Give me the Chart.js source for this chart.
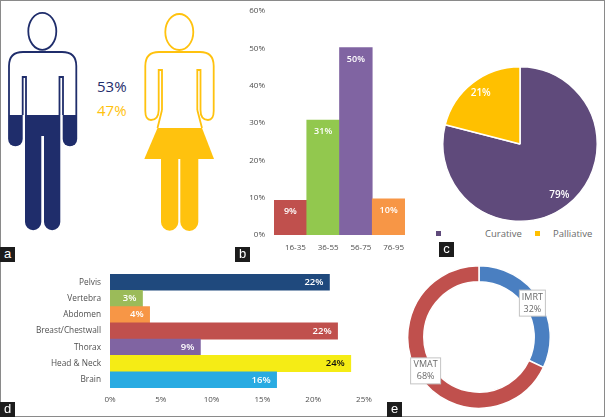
<!DOCTYPE html>
<html>
<head>
<meta charset="utf-8">
<script src="https://cdn.jsdelivr.net/npm/chart.js@4"></script>
<style>
html, body { margin: 0; padding: 0; background: #fff; }
#page { position: relative; width: 605px; height: 417px; overflow: hidden; background: #fff; font-family: "Open Sans", sans-serif; filter: blur(0.3px); }
#frame { position: absolute; left: 0; top: 0; width: 603px; height: 415px; border: 1px solid #8a8a8a; }
canvas { position: absolute; }
#people { position: absolute; left: 0; top: 0; }
.tag { position: absolute; width: 15px; height: 15px; background: #1c1c1c; color: #fff; font: 13px/14px "Liberation Sans", sans-serif; text-align: center; }
.pct { position: absolute; left: 97px; font-size: 15px; line-height: 20px; }
.legend { position: absolute; top: 227px; font-size: 9.5px; line-height: 13px; color: #6a6a6a; white-space: nowrap; }
.swatch { position: absolute; top: 231px; width: 5px; height: 5px; }
</style>
</head>
<body>
<div id="page">
  <div id="frame"></div>

  <svg id="people" width="235" height="240">
    <g fill="none" stroke="#1f2d6b" stroke-width="1.8">
      <ellipse cx="42.3" cy="31.3" rx="14" ry="18.5"/>
      <path d="M9 115 V66 Q9 52 23 52 H62 Q76.3 52 76.3 66 V115"/>
      <path d="M22.7 115 V77 H26 V115 M59.5 115 V77 H63 V115"/>
    </g>
    <g fill="#1f2d6b">
      <path d="M8.1 115 H22.7 V139 a7.3 7.3 0 0 1 -14.6 0 Z"/>
      <path d="M62.7 115 H77.2 V139 a7.25 7.25 0 0 1 -14.5 0 Z"/>
      <path d="M25 115 H60.3 V222 a8.15 8.15 0 0 1 -16.3 0 V136 H41.3 V222 a8.15 8.15 0 0 1 -16.3 0 Z"/>
    </g>
    <g fill="none" stroke="#ffc20e" stroke-width="1.8">
      <ellipse cx="179.3" cy="32" rx="14" ry="18"/>
      <path d="M162 110 V70 H158.7 V110 Q158.5 120 151 120 Q145.3 120 145.3 111 V66 Q145.3 52 159 52 H200 Q213.7 52 213.7 66 V111 Q213.7 120 208 120 Q200.5 120 200.5 110 V70 H197.3 V110"/>
      <path d="M162 110 L157.5 128 M197.3 110 L202 128"/>
    </g>
    <g fill="#ffc20e">
      <path d="M157.5 128 H202 L214 159 H144.3 Z"/>
      <path d="M161 158 H178.3 V222 a8.65 8.65 0 0 1 -17.3 0 Z"/>
      <path d="M180.3 158 H198.3 V222 a9 9 0 0 1 -18 0 Z"/>
    </g>
  </svg>
  <div class="pct" id="pctMale" style="top:76px;color:#1f2d6b"></div>
  <div class="pct" id="pctFemale" style="top:100px;color:#ffc20e"></div>

  <canvas id="ageChart" width="170" height="262" style="left:235px;top:0"></canvas>
  <canvas id="intentChart" width="156" height="156" style="left:442px;top:66px"></canvas>
  <canvas id="siteChart" width="376" height="138" style="left:0;top:270px"></canvas>
  <canvas id="techChart" width="144" height="144" style="left:407px;top:265px"></canvas>

  <div class="swatch" id="sw0" style="left:436px"></div>
  <div class="legend" id="lg0" style="left:485px"></div>
  <div class="swatch" id="sw1" style="left:535px"></div>
  <div class="legend" id="lg1" style="left:553px"></div>

  <div class="tag" style="left:0;top:247px">a</div>
  <div class="tag" style="left:235px;top:247px">b</div>
  <div class="tag" style="left:439px;top:242px">c</div>
  <div class="tag" style="left:0;top:402px">d</div>
  <div class="tag" style="left:387px;top:402px">e</div>
</div>

<script>
// panel a
const sexValues = [53, 47];

// panel b
const ageLabels = ['16-35', '36-55', '56-75', '76-95'];
const ageValues = [9.3, 30.8, 50.2, 9.7];
const ageText = ['9%', '31%', '50%', '10%'];
const ageColors = ['#c0504d', '#92c84e', '#8064a2', '#f79646'];

// panel c
const intentLabels = ['Curative', 'Palliative'];
const intentValues = [79, 21];
const intentColors = ['#5f4a7b', '#ffc000'];

// panel d
const siteLabels = ['Pelvis', 'Vertebra', 'Abdomen', 'Breast/Chestwall', 'Thorax', 'Head & Neck', 'Brain'];
const siteValues = [21.6, 3.2, 3.9, 22.4, 8.9, 23.7, 16.4];
const siteText = ['22%', '3%', '4%', '22%', '9%', '24%', '16%'];
const siteColors = ['#1f497d', '#9bbb59', '#f79646', '#c0504d', '#8064a2', '#f5ec15', '#29abe2'];
const siteTextColors = ['#fff', '#fff', '#fff', '#fff', '#fff', '#111', '#fff'];

// panel e
const techLabels = ['IMRT', 'VMAT'];
const techValues = [32, 68];
const techColors = ['#4a7fc1', '#c0504d'];

const tickFont = { family: 'Open Sans', size: 8 };
const siteTickFont = { family: 'Open Sans', size: 8.3 };
const tickColor = '#4f4f4f';

// keep the plot box where it is asked for, no room added for half a tick label
function fixScale(scale, size) {
    if (scale.isHorizontal()) {
        scale.height = size;
    } else {
        scale.width = size;
    }
    scale.paddingTop = 0;
    scale.paddingBottom = 0;
    scale.paddingLeft = 0;
    scale.paddingRight = 0;
}

document.getElementById('pctMale').textContent = sexValues[0] + '%';
document.getElementById('pctFemale').textContent = sexValues[1] + '%';
intentLabels.forEach(function (name, i) {
    document.getElementById('lg' + i).textContent = name;
    document.getElementById('sw' + i).style.background = intentColors[i];
});

const ageBarLabels = {
    id: 'ageBarLabels',
    afterDatasetsDraw(chart) {
        const c = chart.ctx;
        c.save();
        c.font = '600 9px "Open Sans"';
        c.fillStyle = '#fff';
        c.textAlign = 'center';
        c.textBaseline = 'middle';
        chart.getDatasetMeta(0).data.forEach(function (bar, i) {
            c.fillText(ageText[i], bar.x, bar.y + 11.5);
        });
        c.restore();
    }
};

const siteBarLabels = {
    id: 'siteBarLabels',
    afterDatasetsDraw(chart) {
        const c = chart.ctx;
        c.save();
        c.font = '600 9.5px "Open Sans"';
        c.textAlign = 'right';
        c.textBaseline = 'middle';
        chart.getDatasetMeta(0).data.forEach(function (bar, i) {
            c.fillStyle = siteTextColors[i];
            c.fillText(siteText[i], bar.x - 6, bar.y);
        });
        c.restore();
    }
};

const pieLabels = {
    id: 'pieLabels',
    afterDatasetsDraw(chart) {
        const c = chart.ctx;
        c.save();
        c.font = '600 10px "Open Sans"';
        c.fillStyle = '#fff';
        c.textAlign = 'center';
        c.textBaseline = 'middle';
        chart.getDatasetMeta(0).data.forEach(function (arc, i) {
            const mid = (arc.startAngle + arc.endAngle) / 2;
            const r = arc.outerRadius * 0.83;
            c.fillText(intentValues[i] + '%', arc.x + Math.cos(mid) * r, arc.y + Math.sin(mid) * r);
        });
        c.restore();
    }
};

const donutLabels = {
    id: 'donutLabels',
    afterDatasetsDraw(chart) {
        const c = chart.ctx;
        c.save();
        c.font = '9px "Open Sans"';
        c.textAlign = 'center';
        c.textBaseline = 'middle';
        chart.getDatasetMeta(0).data.forEach(function (arc, i) {
            const p = arc.getCenterPoint();
            const w = i === 0 ? 26 : 30;
            c.fillStyle = '#fff';
            c.strokeStyle = '#c4c4c4';
            c.lineWidth = 1;
            c.fillRect(p.x - w / 2, p.y - 13, w, 26);
            c.strokeRect(p.x - w / 2, p.y - 13, w, 26);
            c.fillStyle = '#6a6a6a';
            c.fillText(techLabels[i], p.x, p.y - 6);
            c.fillText(techValues[i] + '%', p.x, p.y + 6);
        });
        c.restore();
    }
};

new Chart(document.getElementById('ageChart'), {
    type: 'bar',
    data: {
        labels: ageLabels,
        datasets: [{
            data: ageValues,
            backgroundColor: ageColors,
            categoryPercentage: 1,
            barPercentage: 1
        }]
    },
    options: {
        responsive: false,
        animation: false,
        layout: { padding: { top: 11 } },
        plugins: { legend: { display: false }, tooltip: { enabled: false } },
        scales: {
            x: {
                grid: { display: false, drawTicks: false },
                border: { display: false },
                ticks: { font: tickFont, color: tickColor, padding: 8, maxRotation: 0, labelOffset: 5 },
                afterFit(scale) { fixScale(scale, 27); }
            },
            y: {
                min: 0,
                max: 60,
                grid: { display: false, drawTicks: false },
                border: { display: false },
                ticks: { stepSize: 10, font: tickFont, color: tickColor, padding: 9, callback: v => v + '%' },
                afterFit(scale) { fixScale(scale, 39); }
            }
        }
    },
    plugins: [ageBarLabels]
});

new Chart(document.getElementById('intentChart'), {
    type: 'pie',
    data: {
        labels: intentLabels,
        datasets: [{
            data: intentValues,
            backgroundColor: intentColors,
            borderColor: '#fff',
            borderWidth: 1.5
        }]
    },
    options: {
        responsive: false,
        animation: false,
        plugins: { legend: { display: false }, tooltip: { enabled: false } }
    },
    plugins: [pieLabels]
});

new Chart(document.getElementById('siteChart'), {
    type: 'bar',
    data: {
        labels: siteLabels,
        datasets: [{
            data: siteValues,
            backgroundColor: siteColors,
            categoryPercentage: 1,
            barPercentage: 1
        }]
    },
    options: {
        indexAxis: 'y',
        responsive: false,
        animation: false,
        layout: { padding: { top: 4, right: 12 } },
        plugins: { legend: { display: false }, tooltip: { enabled: false } },
        scales: {
            x: {
                min: 0,
                max: 25,
                grid: { display: false, drawTicks: false },
                border: { display: false },
                ticks: { stepSize: 5, font: tickFont, color: tickColor, padding: 7, maxRotation: 0, callback: v => v + '%' },
                afterFit(scale) { fixScale(scale, 20); }
            },
            y: {
                grid: { display: false, drawTicks: false },
                border: { display: false },
                ticks: { font: siteTickFont, color: tickColor, padding: 9, autoSkip: false },
                afterFit(scale) { fixScale(scale, 110); }
            }
        }
    },
    plugins: [siteBarLabels]
});

new Chart(document.getElementById('techChart'), {
    type: 'doughnut',
    data: {
        labels: techLabels,
        datasets: [{
            data: techValues,
            backgroundColor: techColors,
            borderColor: '#fff',
            borderWidth: 1.5
        }]
    },
    options: {
        responsive: false,
        animation: false,
        cutout: '77.5%',
        plugins: { legend: { display: false }, tooltip: { enabled: false } }
    },
    plugins: [donutLabels]
});
</script>
</body>
</html>
